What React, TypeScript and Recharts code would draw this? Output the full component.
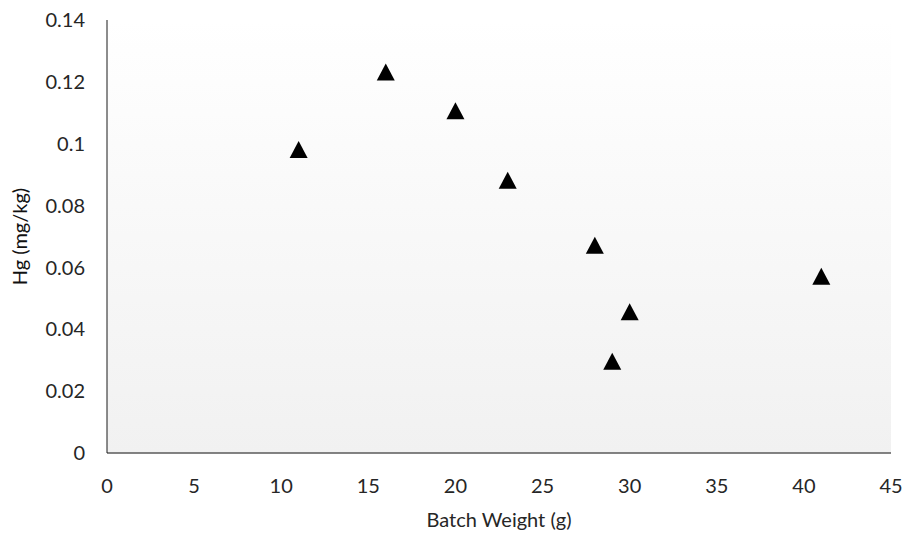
import { ScatterChart, Scatter, XAxis, YAxis, CartesianGrid } from 'recharts';

const batchWeight = [11, 16, 20, 23, 28, 29, 30, 41];
const mercury = [0.098, 0.123, 0.1105, 0.088, 0.067, 0.0295, 0.0455, 0.057];
const xTicks = [0, 5, 10, 15, 20, 25, 30, 35, 40, 45];
const yTicks = [0, 0.02, 0.04, 0.06, 0.08, 0.1, 0.12, 0.14];

const points = batchWeight.map((w, i) => ({ w, hg: mercury[i] }));

const font = 'Lato, "Open Sans", sans-serif';

// filled triangle marker centred on the point
const Triangle = (props: any) => {
  const { cx, cy } = props;
  const half = 9;
  return (
    <polygon
      points={`${cx},${cy - 9} ${cx - half},${cy + 8} ${cx + half},${cy + 8}`}
      fill="#000"
    />
  );
};

export default function App() {
  return (
    <div style={{ position: 'absolute', left: 0, top: 0, width: 906, height: 533, background: '#fff' }}>
      <ScatterChart width={906} height={533} margin={{ top: 20, right: 15, bottom: 0, left: 0 }}>
        <defs>
          <linearGradient id="plotBg" x1="0" y1="0" x2="0" y2="1">
            <stop offset="0%" stopColor="#ffffff" />
            <stop offset="100%" stopColor="#f1f1f1" />
          </linearGradient>
        </defs>
        <CartesianGrid horizontal={false} vertical={false} fill="url(#plotBg)" />
        <XAxis
          type="number"
          dataKey="w"
          domain={[0, 45]}
          ticks={xTicks}
          interval={0}
          tickLine={false}
          axisLine={{ stroke: '#5a5a5a', strokeWidth: 1.5 }}
          tick={{ fill: '#262626', fontSize: 20, fontFamily: font, dy: 18 }}
          height={80}
          label={{ value: 'Batch Weight (g)', position: 'insideBottom', offset: 6, fill: '#262626', fontSize: 20, fontFamily: font }}
        />
        <YAxis
          type="number"
          dataKey="hg"
          domain={[0, 0.14]}
          ticks={yTicks}
          interval={0}
          tickLine={false}
          axisLine={{ stroke: '#1a1a1a', strokeWidth: 1 }}
          tick={{ fill: '#262626', fontSize: 20, fontFamily: font, dx: -14 }}
          width={107}
          label={{ value: 'Hg (mg/kg)', angle: -90, position: 'insideLeft', offset: 20, fill: '#111', fontSize: 20, fontFamily: font, style: { textAnchor: 'middle' } }}
        />
        <Scatter data={points} shape={Triangle} isAnimationActive={false} />
      </ScatterChart>
    </div>
  );
}
